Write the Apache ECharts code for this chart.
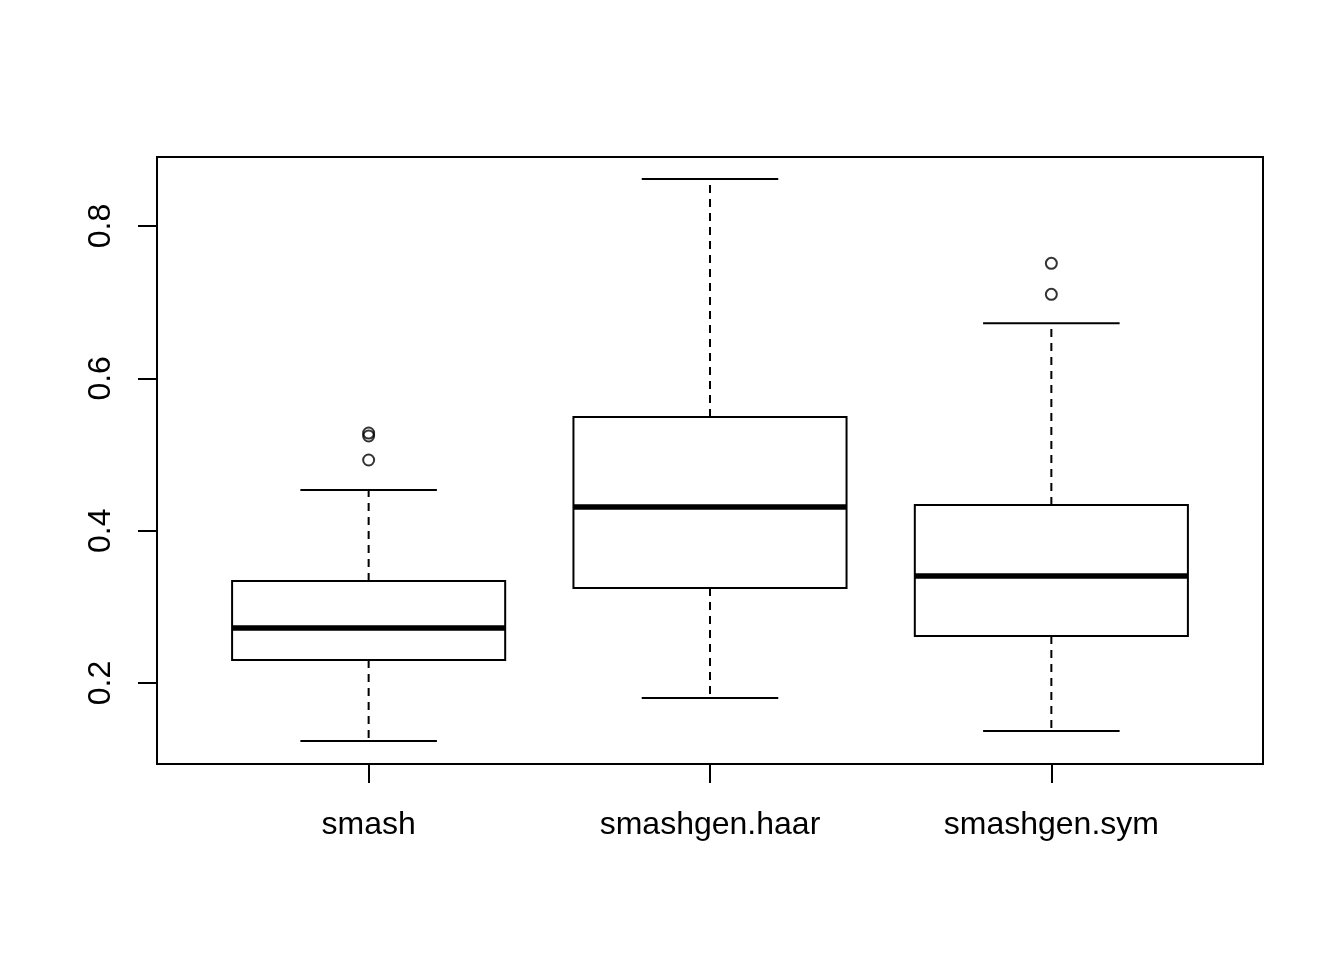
<!DOCTYPE html>
<html>
<head>
<meta charset="utf-8">
<script src="https://cdn.jsdelivr.net/npm/echarts@6/dist/echarts.min.js"></script>
<style>
  html, body { margin: 0; padding: 0; background: #ffffff; }
  #chart { width: 1344px; height: 960px; }
</style>
</head>
<body>
<div id="chart"></div>
<script>
// Groups along the x axis
const categories = ['smash', 'smashgen.haar', 'smashgen.sym'];
// Five-number summaries per group: lower whisker, Q1, median, Q3, upper whisker
const lowerWhisker = [0.1239, 0.1803, 0.1370];
const q1 = [0.2302, 0.3247, 0.2617];
const median = [0.2722, 0.4311, 0.3405];
const q3 = [0.3339, 0.5492, 0.4337];
const upperWhisker = [0.4534, 0.8617, 0.6722];
// Points beyond the whiskers: [group index, value]
const outliers = [
  [0, 0.4928], [0, 0.5243], [0, 0.5282],
  [2, 0.7103], [2, 0.7510]
];
// Y-axis tick values
const yTicks = [0.2, 0.4, 0.6, 0.8];

const boxHalf = 0.4;   // half box width in x-axis units
const capHalf = 0.2;   // half whisker cap width

const boxData = categories.map((c, i) => [i + 1, lowerWhisker[i], q1[i], median[i], q3[i], upperWhisker[i]]);
const outlierData = outliers.map(o => [o[0] + 1, o[1]]);

const chart = echarts.init(document.getElementById('chart'), null, { renderer: 'canvas' });

const black = '#000000';
const font = 'Liberation Sans, Arial, sans-serif';

function renderBox(params, api) {
  const x = api.value(0);
  const lo = api.value(1), a = api.value(2), m = api.value(3), b = api.value(4), hi = api.value(5);
  const pLo = api.coord([x, lo]);
  const pA = api.coord([x, a]);
  const pM = api.coord([x, m]);
  const pB = api.coord([x, b]);
  const pHi = api.coord([x, hi]);
  const left = api.coord([x - boxHalf, m])[0];
  const right = api.coord([x + boxHalf, m])[0];
  const capL = api.coord([x - capHalf, m])[0];
  const capR = api.coord([x + capHalf, m])[0];
  const cx = pM[0];
  const solid = { stroke: black, lineWidth: 2, fill: null };
  const dashed = { stroke: black, lineWidth: 2, lineDash: [8, 6], fill: null };
  return {
    type: 'group',
    children: [
      { type: 'line', shape: { x1: cx, y1: pB[1], x2: cx, y2: pHi[1] }, style: dashed },
      { type: 'line', shape: { x1: cx, y1: pA[1], x2: cx, y2: pLo[1] }, style: dashed },
      { type: 'line', shape: { x1: capL, y1: pHi[1], x2: capR, y2: pHi[1] }, style: solid },
      { type: 'line', shape: { x1: capL, y1: pLo[1], x2: capR, y2: pLo[1] }, style: solid },
      { type: 'rect', shape: { x: left, y: pB[1], width: right - left, height: pA[1] - pB[1] },
        style: { stroke: black, lineWidth: 2, fill: '#ffffff' } },
      { type: 'line', shape: { x1: left, y1: pM[1], x2: right, y2: pM[1] },
        style: { stroke: black, lineWidth: 5.5 } }
    ]
  };
}

const option = {
  backgroundColor: '#ffffff',
  animation: false,
  grid: {
    left: 157, right: 81, top: 157, bottom: 196,
    show: true, borderColor: black, borderWidth: 2, backgroundColor: 'transparent'
  },
  xAxis: {
    type: 'value',
    min: 0.38, max: 3.62,
    splitLine: { show: false },
    axisLine: { show: false },
    axisTick: { show: true, customValues: [1, 2, 3], length: 19, lineStyle: { color: black, width: 2 } },
    axisLabel: {
      customValues: [1, 2, 3],
      formatter: v => categories[Math.round(v) - 1] || '',
      color: black, fontSize: 32, fontFamily: font, margin: 45
    }
  },
  yAxis: {
    type: 'value',
    min: 0.0937, max: 0.8906,
    splitLine: { show: false },
    axisLine: { show: false },
    axisTick: { show: true, customValues: yTicks, length: 19, lineStyle: { color: black, width: 2 } },
    axisLabel: {
      customValues: yTicks,
      rotate: 90,
      formatter: v => v.toFixed(1),
      color: black, fontSize: 32, fontFamily: font, margin: 40
    }
  },
  series: [
    {
      type: 'custom',
      renderItem: renderBox,
      data: boxData,
      encode: { x: 0, y: [1, 2, 3, 4, 5] },
      z: 2
    },
    {
      type: 'scatter',
      data: outlierData,
      symbol: 'circle',
      symbolSize: 11,
      itemStyle: { color: 'transparent', borderColor: black, borderWidth: 2 },
      z: 3
    }
  ]
};

chart.setOption(option);
</script>
</body>
</html>
